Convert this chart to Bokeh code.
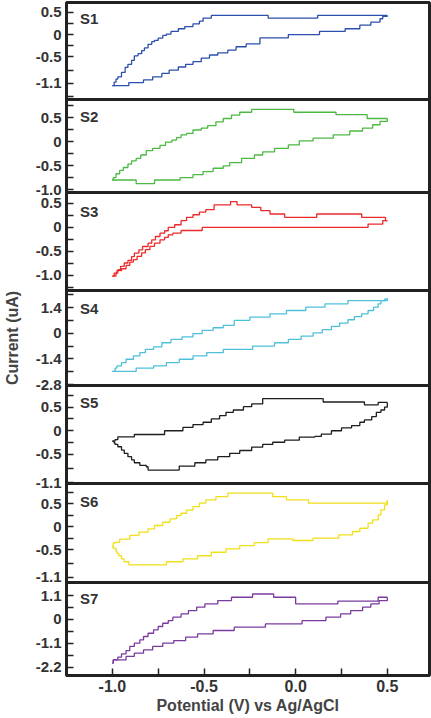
from bokeh.plotting import figure
from bokeh.models import FixedTicker, Range1d, Label
from bokeh.layouts import column
from bokeh.embed import file_html
from bokeh.resources import INLINE

# ---------------- data ----------------
potential_ticks = [-1.0, -0.5, 0.0, 0.5]
potential_minor_ticks = [-0.75, -0.25, 0.25]
potential_tick_labels = ["-1.0", "-0.5", "0.0", "0.5"]

sample_names = ["S1", "S2", "S3", "S4", "S5", "S6", "S7"]

# S1
s1_fwd_v = [-1.0, -0.99, -0.98, -0.97, -0.95, -0.93, -0.915, -0.895, -0.88, -0.86, -0.84, -0.825, -0.805, -0.785,
            -0.77, -0.75, -0.725, -0.705, -0.68, -0.64, -0.605, -0.56, -0.525, -0.505, -0.46, -0.15, 0.12, 0.5]
s1_fwd_i = [-1.15, -1.07, -1.0, -0.95, -0.85, -0.74, -0.67, -0.58, -0.48, -0.43, -0.36, -0.30, -0.22, -0.16,
            -0.13, -0.08, -0.02, 0.01, 0.07, 0.13, 0.18, 0.24, 0.30, 0.37, 0.43, 0.37, 0.43, 0.43]
s1_rev_v = [-1.0, -0.91, -0.83, -0.78, -0.73, -0.69, -0.64, -0.60, -0.56, -0.515, -0.47, -0.425, -0.37, -0.325,
            -0.27, -0.195, -0.04, 0.13, 0.27, 0.35, 0.41, 0.46, 0.475, 0.5]
s1_rev_i = [-1.15, -1.08, -1.02, -0.95, -0.875, -0.80, -0.73, -0.67, -0.61, -0.53, -0.46, -0.41, -0.35, -0.275,
            -0.21, -0.075, 0.0, 0.07, 0.13, 0.21, 0.28, 0.355, 0.41, 0.43]
s1_ticks = [0.5, 0, -0.5, -1.1]
s1_tick_labels = ["0.5", "0", "-0.5", "-1.1"]
s1_minor = [0.25, -0.25, -0.8, -1.4]

# S2
s2_fwd_v = [-1.0, -0.995, -0.98, -0.96, -0.94, -0.915, -0.895, -0.87, -0.845, -0.815, -0.78, -0.74, -0.71, -0.675,
            -0.65, -0.625, -0.595, -0.56, -0.515, -0.48, -0.435, -0.395, -0.35, -0.305, -0.24, -0.01, 0.22, 0.39, 0.5]
s2_fwd_i = [-0.80, -0.75, -0.67, -0.60, -0.54, -0.47, -0.40, -0.35, -0.28, -0.19, -0.14, -0.08, -0.01, 0.03,
            0.08, 0.14, 0.17, 0.24, 0.28, 0.33, 0.41, 0.48, 0.55, 0.61, 0.67, 0.61, 0.56, 0.48, 0.48]
s2_rev_v = [-1.0, -0.87, -0.77, -0.63, -0.56, -0.505, -0.45, -0.395, -0.36, -0.295, -0.225, -0.18, -0.115, -0.04,
            0.02, 0.095, 0.205, 0.295, 0.365, 0.42, 0.46, 0.5]
s2_rev_i = [-0.80, -0.875, -0.80, -0.75, -0.69, -0.625, -0.555, -0.505, -0.44, -0.35, -0.28, -0.215, -0.14, -0.07,
            0.015, 0.07, 0.14, 0.22, 0.28, 0.35, 0.42, 0.48]
s2_ticks = [0.5, 0, -0.5, -1.0]
s2_tick_labels = ["0.5", "0", "-0.5", "-1.0"]
s2_minor = [0.75, 0.25, -0.25, -0.75]

# S3
s3_fwd_v = [-1.0, -0.99, -0.97, -0.955, -0.935, -0.915, -0.895, -0.88, -0.855, -0.835, -0.805, -0.785, -0.765,
            -0.74, -0.715, -0.695, -0.66, -0.625, -0.595, -0.56, -0.525, -0.49, -0.445, -0.355, -0.32, -0.24,
            -0.19, -0.14, -0.06, 0.115, 0.36, 0.49, 0.5]
s3_fwd_i = [-1.02, -0.955, -0.885, -0.815, -0.745, -0.69, -0.61, -0.54, -0.47, -0.40, -0.33, -0.26, -0.19,
            -0.12, -0.07, 0.0, 0.055, 0.14, 0.21, 0.265, 0.32, 0.37, 0.47, 0.54, 0.47, 0.42,
            0.35, 0.28, 0.21, 0.28, 0.21, 0.14, 0.14]
s3_rev_v = [-1.0, -0.98, -0.975, -0.95, -0.925, -0.905, -0.885, -0.865, -0.84, -0.82, -0.795, -0.77, -0.74,
            -0.715, -0.695, -0.67, -0.625, -0.51, 0.395, 0.475, 0.5]
s3_rev_i = [-1.02, -0.955, -0.905, -0.865, -0.795, -0.725, -0.675, -0.605, -0.535, -0.465, -0.395, -0.33, -0.26,
            -0.21, -0.155, -0.12, -0.065, 0.0, 0.07, 0.14, 0.14]
s3_ticks = [0.5, 0, -0.5, -1.0]
s3_tick_labels = ["0.5", "0", "-0.5", "-1.0"]
s3_minor = [0.25, -0.25, -0.75, -1.25]

# S4
s4_fwd_v = [-1.0, -0.985, -0.975, -0.95, -0.925, -0.885, -0.85, -0.82, -0.775, -0.73, -0.68, -0.62, -0.56,
            -0.51, -0.45, -0.395, -0.335, -0.25, -0.14, -0.05, 0.055, 0.16, 0.285, 0.5]
s4_fwd_i = [-2.08, -1.9, -1.78, -1.6, -1.42, -1.24, -1.06, -0.88, -0.74, -0.52, -0.34, -0.2, -0.02,
            0.16, 0.3, 0.43, 0.7, 0.88, 1.06, 1.24, 1.42, 1.6, 1.78, 1.92]
s4_rev_v = [-1.0, -0.87, -0.775, -0.705, -0.635, -0.56, -0.485, -0.395, -0.235, -0.115, -0.04, 0.03, 0.095,
            0.145, 0.195, 0.24, 0.285, 0.32, 0.36, 0.395, 0.425, 0.45, 0.465, 0.485, 0.5]
s4_rev_i = [-2.08, -1.9, -1.78, -1.6, -1.42, -1.24, -1.06, -0.88, -0.7, -0.52, -0.34, -0.16, 0.015,
            0.195, 0.375, 0.555, 0.735, 0.91, 1.06, 1.24, 1.42, 1.6, 1.78, 1.86, 1.92]
s4_ticks = [1.4, 0, -1.4, -2.8]
s4_tick_labels = ["1.4", "0", "-1.4", "-2.8"]
s4_minor = [2.1, 0.7, -0.7, -2.1]

# S5
s5_fwd_v = [-1.0, -0.985, -0.97, -0.88, -0.715, -0.615, -0.56, -0.505, -0.46, -0.415, -0.38, -0.34, -0.285,
            -0.24, -0.18, 0.15, 0.375, 0.45, 0.5]
s5_fwd_i = [-0.22, -0.19, -0.13, -0.08, 0.0, 0.07, 0.13, 0.18, 0.25, 0.32, 0.39, 0.44, 0.51,
            0.57, 0.68, 0.61, 0.55, 0.60, 0.60]
s5_rev_v = [-1.0, -0.99, -0.985, -0.97, -0.95, -0.935, -0.915, -0.895, -0.88, -0.85, -0.815, -0.805, -0.635,
            -0.55, -0.49, -0.425, -0.36, -0.305, -0.24, -0.18, -0.125, -0.06, 0.02, 0.105, 0.14, 0.195, 0.25,
            0.305, 0.35, 0.375, 0.415, 0.44, 0.465, 0.485, 0.5]
s5_rev_i = [-0.22, -0.26, -0.29, -0.34, -0.41, -0.48, -0.55, -0.62, -0.68, -0.735, -0.765, -0.835, -0.75,
            -0.68, -0.62, -0.55, -0.48, -0.42, -0.35, -0.29, -0.245, -0.20, -0.135, -0.12, -0.07, 0.0, 0.06,
            0.11, 0.18, 0.23, 0.30, 0.39, 0.44, 0.50, 0.60]
s5_ticks = [0.5, 0, -0.5, -1.1]
s5_tick_labels = ["0.5", "0", "-0.5", "-1.1"]
s5_minor = [0.75, 0.25, -0.25, -0.8]

# S6
s6_fwd_v = [-1.0, -0.995, -0.985, -0.96, -0.905, -0.855, -0.805, -0.77, -0.725, -0.685, -0.65, -0.625, -0.595,
            -0.56, -0.525, -0.49, -0.435, -0.37, -0.125, -0.05, 0.07, 0.5]
s6_fwd_i = [-0.43, -0.36, -0.34, -0.27, -0.19, -0.12, -0.05, 0.025, 0.095, 0.17, 0.24, 0.29, 0.36,
            0.435, 0.51, 0.58, 0.65, 0.725, 0.65, 0.58, 0.51, 0.58]
s6_rev_v = [-1.0, -0.995, -0.98, -0.975, -0.965, -0.95, -0.935, -0.91, -0.705, -0.615, -0.535, -0.46, -0.38,
            -0.305, -0.225, -0.15, -0.015, 0.095, 0.235, 0.31, 0.35, 0.395, 0.42, 0.45, 0.465, 0.485, 0.5]
s6_rev_i = [-0.43, -0.47, -0.53, -0.58, -0.63, -0.70, -0.76, -0.83, -0.76, -0.70, -0.63, -0.555, -0.48,
            -0.41, -0.345, -0.265, -0.30, -0.25, -0.18, -0.105, -0.035, 0.075, 0.145, 0.255, 0.365, 0.47, 0.58]
s6_ticks = [0.5, 0, -0.5, -1.1]
s6_tick_labels = ["0.5", "0", "-0.5", "-1.1"]
s6_minor = [0.75, 0.25, -0.25, -0.8]

# S7
s7_fwd_v = [-1.0, -0.995, -0.97, -0.95, -0.925, -0.905, -0.88, -0.85, -0.83, -0.805, -0.775, -0.75, -0.725,
            -0.695, -0.67, -0.625, -0.585, -0.54, -0.495, -0.425, -0.35, -0.235, -0.12, 0.0, 0.23, 0.45, 0.5]
s7_fwd_i = [-2.02, -1.87, -1.745, -1.59, -1.44, -1.25, -1.10, -0.945, -0.79, -0.64, -0.485, -0.33, -0.18,
            -0.055, 0.10, 0.25, 0.405, 0.56, 0.71, 0.865, 1.02, 1.17, 1.02, 0.71, 0.84, 1.02, 1.02]
s7_rev_v = [-1.0, -0.995, -0.925, -0.88, -0.83, -0.78, -0.725, -0.665, -0.60, -0.535, -0.45, -0.335, -0.165,
            0.035, 0.165, 0.245, 0.30, 0.365, 0.41, 0.455, 0.5]
s7_rev_i = [-2.02, -1.87, -1.71, -1.56, -1.41, -1.25, -1.10, -0.98, -0.82, -0.67, -0.515, -0.36, -0.21,
            -0.055, 0.10, 0.25, 0.405, 0.56, 0.71, 0.865, 1.02]
s7_ticks = [1.1, 0, -1.1, -2.2]
s7_tick_labels = ["1.1", "0", "-1.1", "-2.2"]
s7_minor = [0.55, -0.55, -1.65]

# ---------------- styling / layout ----------------
series = [
    (s1_fwd_v, s1_fwd_i, s1_rev_v, s1_rev_i, s1_ticks, s1_tick_labels, s1_minor),
    (s2_fwd_v, s2_fwd_i, s2_rev_v, s2_rev_i, s2_ticks, s2_tick_labels, s2_minor),
    (s3_fwd_v, s3_fwd_i, s3_rev_v, s3_rev_i, s3_ticks, s3_tick_labels, s3_minor),
    (s4_fwd_v, s4_fwd_i, s4_rev_v, s4_rev_i, s4_ticks, s4_tick_labels, s4_minor),
    (s5_fwd_v, s5_fwd_i, s5_rev_v, s5_rev_i, s5_ticks, s5_tick_labels, s5_minor),
    (s6_fwd_v, s6_fwd_i, s6_rev_v, s6_rev_i, s6_ticks, s6_tick_labels, s6_minor),
    (s7_fwd_v, s7_fwd_i, s7_rev_v, s7_rev_i, s7_ticks, s7_tick_labels, s7_minor),
]
colors = ["#2c4fae", "#4db842", "#ec2a2a", "#4ec1d9", "#1e1e1e", "#f0e01a", "#7b3b9e"]
y_ranges = [(-1.46, 0.72), (-1.06, 0.875), (-1.32, 0.73), (-2.85, 2.33), (-1.12, 0.96), (-1.21, 0.935), (-2.59, 1.70)]
name_y = [0.35, 0.52, 0.34, 1.35, 0.59, 0.55, 0.94]
name_x = -1.176
frame_heights = [97, 93, 98, 95, 98, 99, 93]

FONT = "Liberation Sans"
TXT = "#333333"
EDGE = "#222222"
LEFT = 64
BOTTOM = 41
TOP = 2
PAD = 10          # overlap so edge tick labels are not cut off
WIDTH = 431


def style_ticks(ax):
    ax.major_tick_in = 7
    ax.major_tick_out = 0
    ax.minor_tick_in = 7
    ax.minor_tick_out = 0
    ax.major_tick_line_color = EDGE
    ax.minor_tick_line_color = EDGE
    ax.major_tick_line_width = 1.5
    ax.minor_tick_line_width = 1.5
    ax.axis_line_color = EDGE
    ax.axis_line_width = 3


x_range = Range1d(-1.25, 0.73)
figs = []
n = len(series)
for k, (fv, fi, rv, ri, ticks, tlabels, minor) in enumerate(series):
    first = k == 0
    last = k == n - 1
    top = TOP if first else PAD
    bot = BOTTOM if last else PAD
    p = figure(width=WIDTH, height=frame_heights[k] + top + bot,
               x_range=x_range, y_range=Range1d(*y_ranges[k]),
               output_backend="svg", toolbar_location=None,
               x_axis_location="below" if last else None,
               min_border_left=LEFT, min_border_right=2,
               min_border_top=top, min_border_bottom=bot,
               margin=(0, 0, 0, 0) if first else (-2 * PAD, 0, 0, 0))
    p.grid.visible = False
    p.outline_line_color = EDGE
    p.outline_line_width = 3
    p.background_fill_alpha = 0
    p.border_fill_alpha = 0

    p.step(fv, fi, mode="after", line_color=colors[k], line_width=1.3)
    p.step(rv, ri, mode="after", line_color=colors[k], line_width=1.3)

    ya = p.yaxis[0]
    ya.ticker = FixedTicker(ticks=ticks, minor_ticks=minor)
    ya.major_label_overrides = {t: s for t, s in zip(ticks, tlabels)}
    ya.major_label_text_font = FONT
    ya.major_label_text_font_style = "bold"
    ya.major_label_text_font_size = "15px"
    ya.major_label_text_color = TXT
    ya.major_label_standoff = 5
    style_ticks(ya)
    if k == 3:
        ya.axis_label = "Current (uA)"
        ya.axis_label_text_font = FONT
        ya.axis_label_text_font_style = "bold"
        ya.axis_label_text_font_size = "16px"
        ya.axis_label_text_color = "#444444"
        ya.axis_label_standoff = 12

    if last:
        xa = p.xaxis[0]
        xa.ticker = FixedTicker(ticks=potential_ticks, minor_ticks=potential_minor_ticks)
        xa.major_label_overrides = {t: s for t, s in zip(potential_ticks, potential_tick_labels)}
        xa.major_label_text_font = FONT
        xa.major_label_text_font_style = "bold"
        xa.major_label_text_font_size = "16px"
        xa.major_label_text_color = TXT
        xa.major_label_standoff = 4
        style_ticks(xa)
        xa.axis_label = "Potential (V) vs Ag/AgCl"
        xa.axis_label_text_font = FONT
        xa.axis_label_text_font_style = "bold"
        xa.axis_label_text_font_size = "16px"
        xa.axis_label_text_color = "#444444"
        xa.axis_label_standoff = 2

    p.add_layout(Label(x=name_x, y=name_y[k], text=sample_names[k], text_font=FONT,
                       text_font_style="bold", text_font_size="15px", text_color=TXT,
                       text_baseline="middle", text_align="left"))
    figs.append(p)

layout = column(*figs, spacing=0)
open("out.html", "w").write(file_html(layout, INLINE))
